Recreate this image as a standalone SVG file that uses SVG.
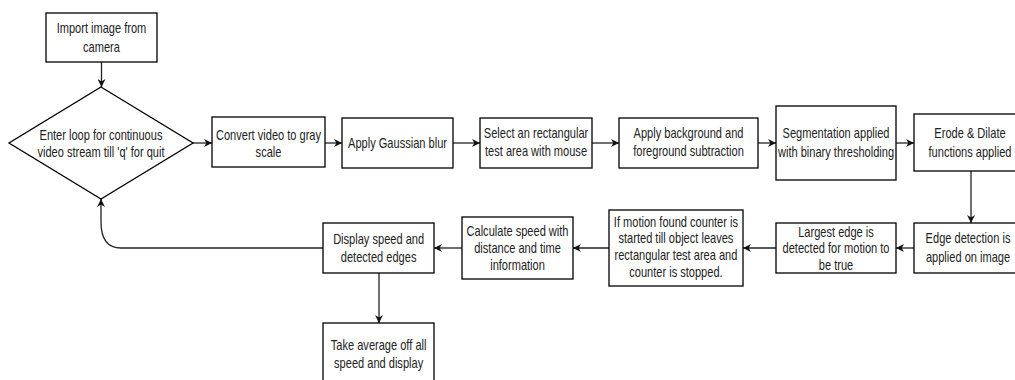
<svg xmlns="http://www.w3.org/2000/svg" width="1015" height="380" viewBox="0 0 1015 380">
<defs>
<style>
.box{fill:#fff;stroke:#000;stroke-width:1.3}
.t{font-family:"Liberation Sans",Arial,sans-serif;font-size:14px;fill:#222;text-anchor:middle}
.c{fill:none;stroke:#222;stroke-width:1.3}
</style>
<marker id="ah" viewBox="0 0 10 10" refX="10" refY="5" markerWidth="8" markerHeight="8" markerUnits="userSpaceOnUse" orient="auto">
<path d="M0,0 L10,5 L0,10 L3,5 Z" fill="#111"/>
</marker>
</defs>
<rect width="1015" height="380" fill="#fff"/>
<g id="connectors">
<path class="c" d="M101.5,62 V87" marker-end="url(#ah)"/>
<path class="c" d="M193,143 H212" marker-end="url(#ah)"/>
<path class="c" d="M325,143 H342" marker-end="url(#ah)"/>
<path class="c" d="M453,143 H480" marker-end="url(#ah)"/>
<path class="c" d="M592,143 H619" marker-end="url(#ah)"/>
<path class="c" d="M758,143 H776" marker-end="url(#ah)"/>
<path class="c" d="M896,143 H914" marker-end="url(#ah)"/>
<path class="c" d="M971,171 V223" marker-end="url(#ah)"/>
<path class="c" d="M914,248 H896" marker-end="url(#ah)"/>
<path class="c" d="M776,248 H743" marker-end="url(#ah)"/>
<path class="c" d="M609,248 H573" marker-end="url(#ah)"/>
<path class="c" d="M462,248 H434" marker-end="url(#ah)"/>
<path class="c" d="M379,273 V323" marker-end="url(#ah)"/>
<path class="c" d="M323,248 H121 Q101,248 101,222 V199" marker-end="url(#ah)"/>
</g>
<g id="import">
<rect class="box" x="46" y="13" width="111" height="49"/>
<g transform="matrix(0.79 0 0 1 21.3 0)"><text class="t" x="101.5" y="33">Import image from</text><text class="t" x="101.5" y="52">camera</text></g>
</g>
<g id="loop">
<path class="box" d="M101,87 L193,143 L101,199 L9,143 Z"/>
<g transform="matrix(0.79 0 0 1 21.2 0)"><text class="t" x="101" y="140">Enter loop for continuous</text><text class="t" x="101" y="157">video stream till 'q' for quit</text></g>
</g>
<g id="gray">
<rect class="box" x="212" y="117" width="113" height="50"/>
<g transform="matrix(0.79 0 0 1 56.4 0)"><text class="t" x="268.5" y="140">Convert video to gray</text><text class="t" x="268.5" y="157">scale</text></g>
</g>
<g id="blur">
<rect class="box" x="342" y="118" width="111" height="50"/>
<g transform="matrix(0.79 0 0 1 83.5 0)"><text class="t" x="397.5" y="148">Apply Gaussian blur</text></g>
</g>
<g id="select">
<rect class="box" x="480" y="118" width="112" height="50"/>
<g transform="matrix(0.79 0 0 1 112.6 0)"><text class="t" x="536" y="138">Select an rectangular</text><text class="t" x="536" y="156">test area with mouse</text></g>
</g>
<g id="bg">
<rect class="box" x="619" y="118" width="139" height="50"/>
<g transform="matrix(0.79 0 0 1 144.6 0)"><text class="t" x="688.5" y="138">Apply background and</text><text class="t" x="688.5" y="156">foreground subtraction</text></g>
</g>
<g id="seg">
<rect class="box" x="776" y="106" width="120" height="74"/>
<g transform="matrix(0.79 0 0 1 175.6 0)"><text class="t" x="836" y="138">Segmentation applied</text><text class="t" x="836" y="157">with binary thresholding</text></g>
</g>
<g id="erode">
<rect class="box" x="914" y="114" width="112" height="57" stroke="#555"/>
<g transform="matrix(0.79 0 0 1 203.7 0)"><text class="t" x="970" y="138">Erode &amp; Dilate</text><text class="t" x="970" y="157">functions applied</text></g>
</g>
<g id="edge">
<rect class="box" x="914" y="223" width="112" height="50"/>
<g transform="matrix(0.79 0 0 1 203.3 0)"><text class="t" x="968" y="243">Edge detection is</text><text class="t" x="968" y="262">applied on image</text></g>
</g>
<g id="largest">
<rect class="box" x="776" y="223" width="120" height="50"/>
<g transform="matrix(0.79 0 0 1 175.6 0)"><text class="t" x="836" y="237">Largest edge is</text><text class="t" x="836" y="253">detected for motion to</text><text class="t" x="836" y="270">be true</text></g>
</g>
<g id="counter">
<rect class="box" x="609" y="210" width="134" height="76"/>
<g transform="matrix(0.79 0 0 1 141.9 0)"><text class="t" x="676" y="227">If motion found counter is</text><text class="t" x="676" y="243">started till object leaves</text><text class="t" x="676" y="260">rectangular test area and</text><text class="t" x="676" y="277">counter is stopped.</text></g>
</g>
<g id="calc">
<rect class="box" x="462" y="217" width="111" height="62"/>
<g transform="matrix(0.79 0 0 1 108.7 0)"><text class="t" x="517.5" y="236">Calculate speed with</text><text class="t" x="517.5" y="253">distance and time</text><text class="t" x="517.5" y="270">information</text></g>
</g>
<g id="display">
<rect class="box" x="323" y="223" width="111" height="50"/>
<g transform="matrix(0.79 0 0 1 79.6 0)"><text class="t" x="378.5" y="244">Display speed and</text><text class="t" x="378.5" y="262">detected edges</text></g>
</g>
<g id="average">
<rect class="box" x="323" y="323" width="111" height="62"/>
<g transform="matrix(0.79 0 0 1 79.6 0)"><text class="t" x="378.5" y="350">Take average off all</text><text class="t" x="378.5" y="368">speed and display</text></g>
</g>
</svg>
